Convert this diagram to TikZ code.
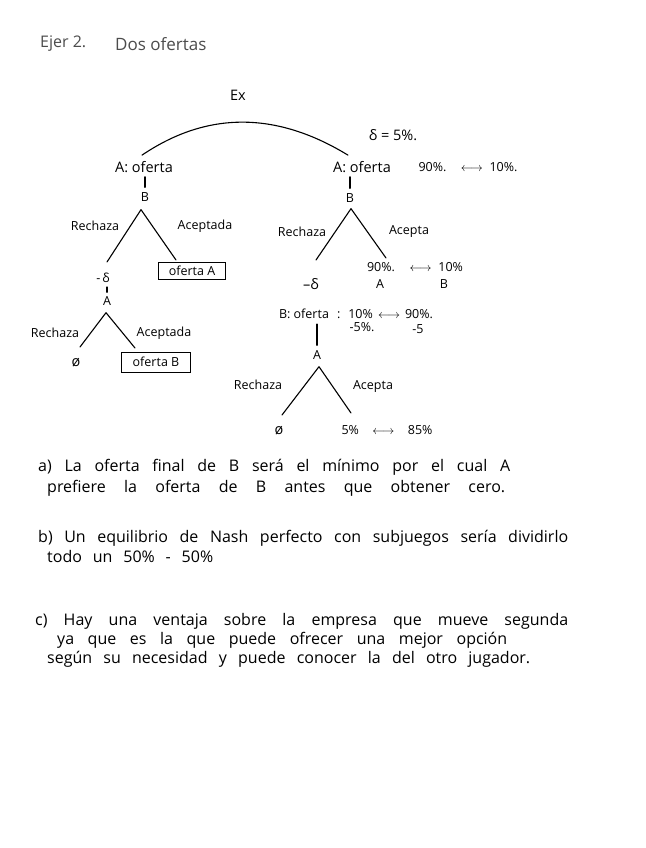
\documentclass[tikz,border=0pt]{standalone}
\usepackage{fontspec}
\setmainfont{Open Sans}
\usetikzlibrary{calc}
\newcommand{\fitline}[2]{\makebox[#1pt][s]{#2}}
\begin{document}
\begin{tikzpicture}[x=1pt,y=-1pt,
  lbl/.style={inner sep=0pt, font=\fontsize{12.5}{14}\selectfont},
  big/.style={inner sep=0pt, font=\fontsize{14.5}{16}\selectfont},
  partxt/.style={inner sep=0pt, anchor=west, font=\fontsize{16}{18}\selectfont},
  boxed/.style={draw, line width=1pt, inner sep=0pt, font=\fontsize{12.5}{14}\selectfont},
  edge/.style={line width=1.1pt, line cap=round, line join=round},
  bar/.style={line width=1.1pt, line cap=round},
]
\useasboundingbox[fill=white] (0,0) rectangle (645,848);

% title
\node[partxt, text=black!70, font=\fontsize{16}{18}\selectfont] (t1) at (40,44) {Ejer 2.};
\node[partxt, text=black!70, font=\fontsize{17}{19}\selectfont] (t2) at (115,44) {Dos ofertas};

% root
\node[big] (ex) at (238,95) {Ex};
\node[big] (Al) at (144,167) {A: oferta};
\node[big] (Ar) at (362,167) {A: oferta};
\node[lbl] (pr) at (468,167) {\fitline{99}{90\%. $\longleftrightarrow$ 10\%.}};
\node[big] (dr) at (393,135) {δ = 5\%.};
\coordinate (arcL) at ($(Al.north)+(-2,-6)$);
\coordinate (arcR) at ($(Ar.north)+(-14,-6)$);
\draw[edge] (arcL) .. controls +(65,-44) and +(-72,-44) .. (arcR);

% left tree
\node[lbl] (Bl) at (145,197) {B};
\draw[bar, shorten <=5pt, shorten >=4pt] (Bl.north) -- (Bl.north |- Al.south);
\coordinate (apx1) at ($(Bl.south)+(-4,8)$);
\coordinate (L1a) at (107,262);
\coordinate (L1b) at (176,260);
\draw[edge] (L1a) -- (apx1) -- (L1b);
\node[lbl] (rl1) at (95,226) {Rechaza};
\node[lbl] (al1) at (205,226) {Aceptada};
\node[lbl] (dl) at (103,278) {-\,δ};
\node[boxed, minimum width=67pt, minimum height=17pt] (oA) at (192,271) {oferta A};
\node[lbl] (Al2) at (107,301) {A};
\draw[bar, shorten <=4pt, shorten >=4pt] (Al2.north) -- (Al2.north |- dl.south);
\coordinate (apx2) at ($(Al2.south)+(-1,7)$);
\coordinate (L2a) at (80,347);
\coordinate (L2b) at (135,348);
\draw[edge] (L2a) -- (apx2) -- (L2b);
\node[lbl] (rl2) at (55,333) {Rechaza};
\node[lbl] (al2) at (164,333) {Aceptada};
\node[big] (z1) at (76,363) {ø};
\node[boxed, minimum width=69pt, minimum height=20pt] (oB) at (156,362) {oferta B};

% right tree
\node[lbl] (Br) at (350,198) {B};
\draw[bar, shorten <=5pt, shorten >=4pt] (Br.north) -- (Br.north |- Ar.south);
\coordinate (apx3) at ($(Br.south)+(1,6)$);
\coordinate (R1a) at (316,260);
\coordinate (R1b) at (386,258);
\draw[edge] (R1a) -- (apx3) -- (R1b);
\node[lbl] (rr1) at (302,232) {Rechaza};
\node[lbl] (ar1) at (409,232) {Acepta};
\node[big] (dr2) at (311,284) {–δ};
\node[lbl] (p2) at (415,267) {\fitline{96}{90\%. $\longleftrightarrow$ 10\%}};
\node[lbl] (pA) at (380,284) {A};
\node[lbl] (pB) at (444,284) {B};
\node[lbl] (Bo) at (304,314) {B: oferta};
\node[lbl] (p3) at (385,314) {\fitline{96}{: 10\% $\longleftrightarrow$ 90\%.}};
\node[lbl] (m1) at (362,327) {-5\%.};
\node[lbl] (m2) at (418,329) {-5};
\node[lbl] (A3) at (317,355) {A};
\draw[bar, shorten <=5pt, shorten >=5pt] (A3.north) -- (A3.north |- Bo.south);
\coordinate (apx4) at ($(A3.south)+(2,7)$);
\coordinate (R2a) at (282,415);
\coordinate (R2b) at (351,413);
\draw[edge] (R2a) -- (apx4) -- (R2b);
\node[lbl] (rr2) at (258,385) {Rechaza};
\node[lbl] (ar2) at (373,387) {Acepta};
\node[big] (z2) at (279,431) {ø};
\node[lbl] (p4) at (387,430) {\fitline{91}{5\% $\longleftrightarrow$ 85\%}};

% answers
\node[partxt] (a1) at (38,467) {\fitline{472}{a) La oferta final de B será el mínimo por el cual A}};
\node[partxt] (a2) at (47,488) {\fitline{458}{prefiere la oferta de B antes que obtener cero.}};
\node[partxt] (b1) at (38,538) {\fitline{530}{b) Un equilibrio de Nash perfecto con subjuegos sería dividirlo}};
\node[partxt] (b2) at (47,556) {\fitline{166}{todo un 50\% - 50\%}};
\node[partxt] (c1) at (35,621) {\fitline{533}{c) Hay una ventaja sobre la empresa que mueve segunda}};
\node[partxt] (c2) at (57,640) {\fitline{450}{ya que es la que puede ofrecer una mejor opción}};
\node[partxt] (c3) at (47,659) {\fitline{483}{según su necesidad y puede conocer la del otro jugador.}};
\end{tikzpicture}
\end{document}
